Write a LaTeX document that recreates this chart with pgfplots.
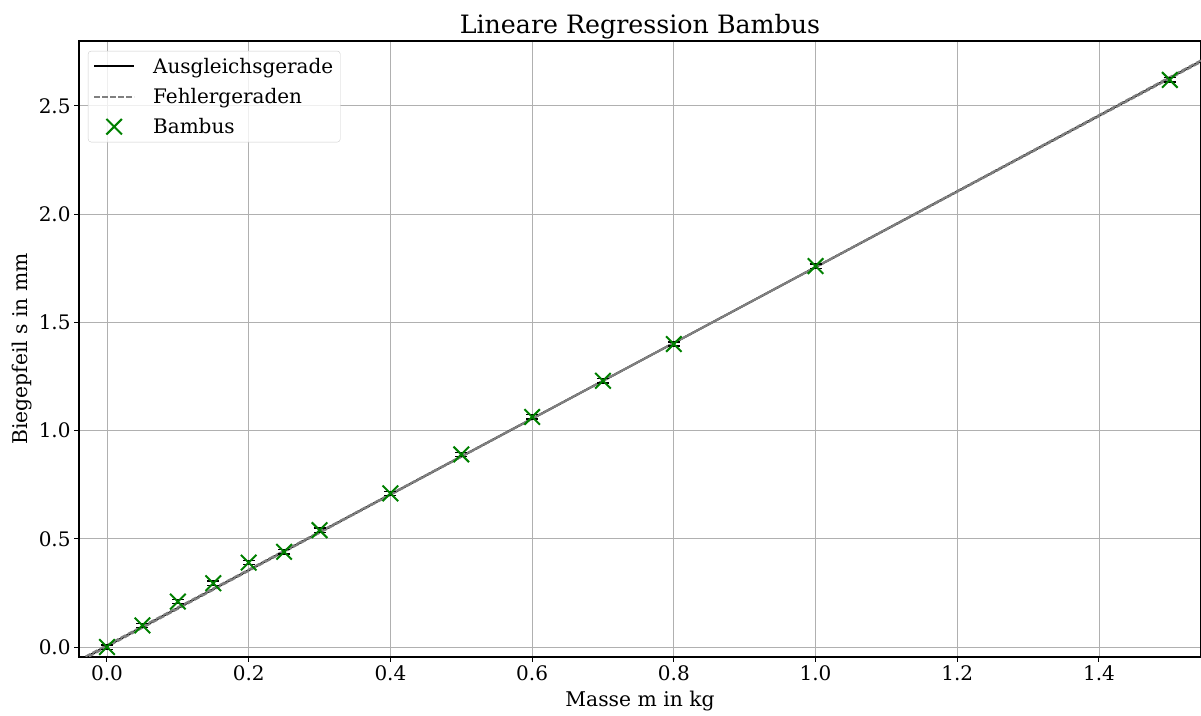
\documentclass[border=0pt]{standalone}
\usepackage{fontspec}
\setmainfont{DejaVu Serif}
\usepackage{pgfplots}
\pgfplotsset{compat=1.18}
\definecolor{mplgreen}{RGB}{0,128,0}
\definecolor{gridgray}{RGB}{176,176,176}
\definecolor{leggray}{RGB}{204,204,204}
\begin{document}
\begin{tikzpicture}
\begin{axis}[
  scale only axis, width=1122bp, height=616bp,
  xmin=-0.0395, xmax=1.544, ymin=-0.046, ymax=2.80,
  xtick={0,0.2,0.4,0.6,0.8,1.0,1.2,1.4},
  ytick={0,0.5,1,1.5,2,2.5},
  /pgf/number format/.cd, fixed, fixed zerofill, precision=1, assume math mode=true,
  /pgfplots/.cd,
  tick label style={font=\fontsize{20bp}{24bp}\selectfont},
  label style={font=\fontsize{20.3bp}{24bp}\selectfont},
  grid=major, major grid style={gridgray, line width=0.9bp},
  tick align=outside, major tick length=4.9bp,
  tick style={black, line width=1bp},
  axis line style={line width=1.1bp},
  tick pos=left,
  title={Lineare Regression Bambus},
  title style={font=\fontsize{25.3bp}{29bp}\selectfont, yshift=-8bp},
  xlabel={Masse m in kg},
  xlabel style={yshift=-4bp},
  ylabel={Biegepfeil s in mm},
  legend cell align=left,
  legend style={at={(0.008,0.984)}, anchor=north west, draw=leggray, rounded corners=3bp,
    fill=white, fill opacity=0.8, text opacity=1, font=\fontsize{20bp}{24bp}\selectfont,
    row sep=9.5bp, inner sep=5bp},
  legend image code/.code={\path[draw=none,fill=none] (0bp,0bp) -- (57bp,0bp); \draw[#1] (0bp,0bp) -- (40bp,0bp);},
]
\addplot[black, line width=2bp] coordinates {(-0.1,-0.170) (1.6,2.805)};
\addlegendentry{Ausgleichsgerade}
\addplot[gray, dashed, line width=2bp, dash pattern=on 5.5bp off 2.5bp] coordinates {(-0.1,-0.1655) (1.6,2.801)};
\addlegendentry{Fehlergeraden}
\addplot[gray, dashed, line width=2bp, dash pattern=on 5.5bp off 2.5bp, dash phase=4bp, forget plot] coordinates {(-0.1,-0.1745) (1.6,2.809)};
\addplot[only marks, mark=x, mark size=11bp, mplgreen, mark options={line width=2bp},
  legend image code/.code={\path[draw=none,fill=none] (0bp,0bp) -- (57bp,0bp); \draw[mplgreen, line width=2bp] plot[mark=x, mark size=11bp] coordinates {(20bp,0bp)};},
  error bars/.cd, y dir=both, y explicit,
  error bar style={black, line width=1.4bp},
  error mark options={rotate=90, mark size=6bp, black, line width=1.4bp}]
  table[x=m, y=s, y error=e] {
m s e
0.00 0.000 0.01
0.05 0.100 0.01
0.10 0.210 0.01
0.15 0.295 0.01
0.20 0.390 0.01
0.25 0.440 0.01
0.30 0.540 0.01
0.40 0.710 0.01
0.50 0.890 0.01
0.60 1.063 0.01
0.70 1.230 0.01
0.80 1.400 0.01
1.00 1.760 0.01
1.50 2.620 0.01
};
\addlegendentry{Bambus}
\end{axis}
\pgfresetboundingbox
\path[use as bounding box] (-79bp,-59bp) rectangle (1122bp,657bp);
\end{tikzpicture}
\end{document}
